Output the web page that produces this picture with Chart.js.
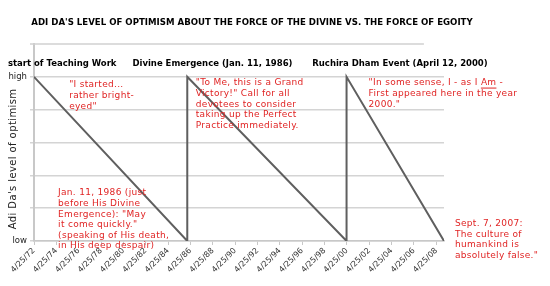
<!DOCTYPE html>
<html><head><meta charset="utf-8">
<script src="https://cdn.jsdelivr.net/npm/chart.js@4/dist/chart.umd.min.js"></script>
<style>html,body{margin:0;padding:0;background:#fff}#wrap{width:550px;height:286px;position:relative}</style>
</head><body><div id="wrap"><canvas id="c" width="550" height="286"></canvas></div>
<script>
// ---- data ----
const chartTitle = "ADI DA'S LEVEL OF OPTIMISM ABOUT THE FORCE OF THE DIVINE VS. THE FORCE OF EGOITY";
const yAxisTitle = "Adi Da's level of optimism";
const pointDates = ['1972-04-25','1986-01-11','1986-01-11','2000-04-12','2000-04-12','2008-12-31'];
const optimismValues = [5,0,5,0,5,0];
const xTickLabels = ['4/25/72','4/25/74','4/25/76','4/25/78','4/25/80','4/25/82','4/25/84','4/25/86','4/25/88','4/25/90','4/25/92','4/25/94','4/25/96','4/25/98','4/25/00','4/25/02','4/25/04','4/25/06','4/25/08'];
const yTickLabels = {0:'low',5:'high'};
const eventLabels = ['start of Teaching Work','Divine Emergence (Jan. 11, 1986)','Ruchira Dham Event (April 12, 2000)'];
const quoteTexts = [
  ['"I started...','rather bright-','eyed"'],
  ['"To Me, this is a Grand','Victory!" Call for all','devotees to consider','taking up the Perfect','Practice immediately.'],
  ['"In some sense, I - as I Am -','First appeared here in the year','2000."'],
  ['Jan. 11, 1986 (just','before His Divine','Emergence): "May','it come quickly."','(speaking of His death,','in His deep despair)'],
  ['Sept. 7, 2007:','The culture of','humankind is','absolutely false."']
];

function decYear(iso){const d=new Date(iso+'T00:00:00Z');const y=d.getUTCFullYear();const s=Date.UTC(y,0,1),e=Date.UTC(y+1,0,1);return y+(d.getTime()-s)/(e-s);}
function labelYear(l){const p=l.split('/').map(Number);const y=p[2]<50?2000+p[2]:1900+p[2];return decYear(y+'-'+String(p[0]).padStart(2,'0')+'-'+String(p[1]).padStart(2,'0'));}

// annotation placement (in axis units: decimal year, optimism level)
const eventAnchors = [[1969.98,5.39],[1981.12,5.39],[1997.21,5.39]];
const quoteAnchors = [[1975.46,4.75],[1986.79,4.81],[2002.25,4.81],[1974.47,1.46],[2009.98,0.52]];
const underlineWord = {2:{line:0,word:'Am'}};

const FONT = '"DejaVu Sans", Verdana, sans-serif';
const RED = '#e02424';

const textPlugin = {
  id:'texts',
  afterDraw(chart){
    const ctx=chart.ctx, xs=chart.scales.x, ys=chart.scales.y, ca=chart.chartArea;
    ctx.save();
    // title
    ctx.font='bold 8.6px '+FONT; ctx.fillStyle='#000'; ctx.textAlign='center'; ctx.textBaseline='middle';
    ctx.fillText(chartTitle, 252, 23);
    // top rule
    const yt=ys.getPixelForValue(6);
    ctx.strokeStyle='#d0d0d0'; ctx.lineWidth=1.5;
    ctx.beginPath(); ctx.moveTo(ca.left-4, yt); ctx.lineTo(xs.getPixelForValue(2007.2), yt); ctx.stroke();
    // y title
    ctx.save(); ctx.translate(13,(ys.getPixelForValue(0)+ys.getPixelForValue(5))/2); ctx.rotate(-Math.PI/2);
    ctx.font='10px '+FONT; ctx.fillStyle='#222'; ctx.textAlign='center'; ctx.textBaseline='middle';
    ctx.letterSpacing='0.4px';
    ctx.fillText(yAxisTitle,0,0); ctx.restore();
    // event labels
    ctx.letterSpacing='0px';
    ctx.font='bold 8.5px '+FONT; ctx.fillStyle='#000'; ctx.textAlign='left'; ctx.textBaseline='middle';
    eventLabels.forEach((t,i)=>{ctx.fillText(t, xs.getPixelForValue(eventAnchors[i][0]), ys.getPixelForValue(eventAnchors[i][1]));});
    // quotes
    ctx.font='9px '+FONT; ctx.fillStyle=RED; ctx.strokeStyle=RED; ctx.lineWidth=1;
    ctx.letterSpacing='0.3px';
    quoteTexts.forEach((lines,i)=>{
      const x0=xs.getPixelForValue(quoteAnchors[i][0]), y0=ys.getPixelForValue(quoteAnchors[i][1]);
      lines.forEach((ln,j)=>{
        const y=y0+j*10.6;
        ctx.fillText(ln,x0,y);
        const u=underlineWord[i];
        if(u && u.line===j){
          const idx=ln.lastIndexOf(u.word);
          const xa=x0+ctx.measureText(ln.slice(0,idx)).width, w=ctx.measureText(u.word).width;
          ctx.beginPath(); ctx.moveTo(xa,y+5); ctx.lineTo(xa+w,y+5); ctx.stroke();
        }
      });
    });
    ctx.restore();
  }
};

const xMin = labelYear(xTickLabels[0]);
const xMax = decYear(pointDates[pointDates.length-1]);

new Chart(document.getElementById('c'),{
  type:'line',
  data:{datasets:[{
    data: pointDates.map((d,i)=>({x:decYear(d), y:optimismValues[i]})),
    borderColor:'#5f5f5f', borderWidth:2, pointRadius:0, tension:0, fill:false
  }]},
  options:{
    responsive:false, animation:false, devicePixelRatio:1,
    layout:{padding:{top:44,right:106,left:0,bottom:0}},
    plugins:{legend:{display:false},title:{display:false},tooltip:{enabled:false}},
    scales:{
      x:{type:'linear', min:xMin, max:xMax,
        afterBuildTicks(s){ s.ticks = xTickLabels.map(l=>({value:labelYear(l)})); },
        afterFit(s){ s.height=45; },
        ticks:{autoSkip:false, minRotation:45, maxRotation:45, padding:1, color:'#333', font:{family:FONT,size:8},
          callback:(v,i)=>xTickLabels[i]},
        grid:{drawOnChartArea:false, drawTicks:true, tickLength:4, color:'#c8c8c8', lineWidth:1},
        border:{color:'#c8c8c8', width:1.5}
      },
      y:{min:0, max:6,
        afterFit(s){ s.width=34; },
        ticks:{stepSize:1, padding:3, color:'#222', font:{family:FONT,size:8.5},
          callback:v=>yTickLabels[v]!==undefined?yTickLabels[v]:''},
        grid:{color:c=>c.tick&&c.tick.value===6?'rgba(0,0,0,0)':'#d4d4d4', lineWidth:1.5, tickLength:4},
        border:{color:'#c8c8c8', width:2}
      }
    }
  },
  plugins:[textPlugin]
});
</script></body></html>
